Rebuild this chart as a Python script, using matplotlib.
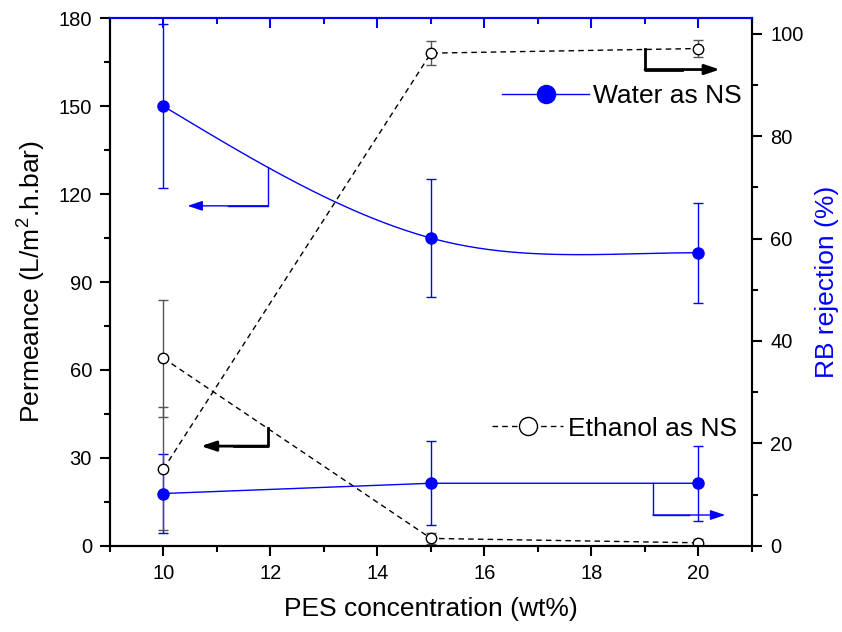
import numpy as np
import matplotlib
matplotlib.use("Agg")
import matplotlib.pyplot as plt
from matplotlib.lines import Line2D
from matplotlib.ticker import MultipleLocator

plt.rcParams['font.family'] = ['Liberation Sans', 'DejaVu Sans']
plt.rcParams['mathtext.fontset'] = 'custom'
plt.rcParams['mathtext.rm'] = 'Liberation Sans'

# PES concentration (wt%)
pes = [10, 15, 20]

# permeance, L/m2.h.bar (left axis)
water_perm = [150, 105, 100]
water_perm_err = [28, 20, 17]
eth_perm = [64, 2.5, 1.0]
eth_perm_err = [20, 1.8, 1.2]

# RB rejection, % (right axis)
water_rej = [10.2, 12.2, 12.2]
water_rej_err = [7.7, 8.2, 7.3]
eth_rej = [15.0, 96.2, 97.1]
eth_rej_err = [12, 2.3, 1.7]


def smooth_curve(xk, yk, xs, slopes):
    # cubic hermite through the knots, end slope eased to zero
    xk = np.asarray(xk, float)
    yk = np.asarray(yk, float)
    out = np.empty_like(xs)
    for j, x in enumerate(xs):
        i = min(max(np.searchsorted(xk, x) - 1, 0), len(xk) - 2)
        h = xk[i + 1] - xk[i]
        t = (x - xk[i]) / h
        out[j] = ((2 * t**3 - 3 * t**2 + 1) * yk[i]
                  + (t**3 - 2 * t**2 + t) * h * slopes[i]
                  + (-2 * t**3 + 3 * t**2) * yk[i + 1]
                  + (t**3 - t**2) * h * slopes[i + 1])
    return out


perm_slopes = [-11, -5, 0]

blue = '#0000ff'
fig = plt.figure(figsize=(8.42, 6.32), dpi=100)
ax = fig.add_axes([0.1306, 0.1365, 0.7625, 0.8345])
ax2 = ax.twinx()

# water permeance, spline connected
xs = np.linspace(pes[0], pes[-1], 200)
ax.plot(xs, smooth_curve(pes, water_perm, xs, perm_slopes), color=blue, lw=1)
ax.errorbar(pes, water_perm, yerr=water_perm_err, fmt='o', color=blue,
            ms=8, elinewidth=1, capsize=3.5, capthick=1, ecolor=blue)

# ethanol permeance
ax.plot(pes, eth_perm, color='black', lw=1, ls=(0, (4, 3)))
ax.errorbar(pes, eth_perm, yerr=eth_perm_err, fmt='o', mfc='white', mec='black',
            mew=1, ms=7.5, ecolor='#555555', elinewidth=1, capsize=3.5, capthick=1)

# water rejection
ax2.plot(pes, water_rej, color=blue, lw=1)
ax2.errorbar(pes, water_rej, yerr=water_rej_err, fmt='o', color=blue,
             ms=8, elinewidth=1, capsize=3.5, capthick=1, ecolor=blue)

# ethanol rejection
ax2.plot(pes, eth_rej, color='black', lw=1, ls=(0, (4, 3)))
ax2.errorbar(pes, eth_rej, yerr=eth_rej_err, fmt='o', mfc='white', mec='black',
             mew=1, ms=7.5, ecolor='#555555', elinewidth=1, capsize=3.5, capthick=1)


def axis_arrow(a, x0, y0, ycorner, xtip, color, lw):
    a.plot([x0, x0, xtip * 0.5 + x0 * 0.5], [y0, ycorner, ycorner], color=color, lw=lw)
    a.annotate('', xy=(xtip, ycorner), xytext=(x0, ycorner),
               arrowprops=dict(arrowstyle='-|>,head_length=0.9,head_width=0.3',
                               color=color, lw=lw, shrinkA=0, shrinkB=0))


axis_arrow(ax, 11.95, smooth_curve(pes, water_perm, np.array([11.95]), perm_slopes)[0],
           116, 10.45, blue, 1)
axis_arrow(ax, 11.95, np.interp(11.95, pes, eth_perm), 34, 10.7, 'black', 2)
axis_arrow(ax2, 19.0, np.interp(19.0, pes, eth_rej), 93, 20.4, 'black', 2)
axis_arrow(ax2, 19.15, np.interp(19.15, pes, water_rej), 6.0, 20.5, blue, 1)

ax.set_xlim(9, 21)
ax.set_ylim(0, 180)
ax2.set_ylim(0, 103)
ax.xaxis.set_major_locator(MultipleLocator(2))
ax.xaxis.set_minor_locator(MultipleLocator(1))
ax.yaxis.set_major_locator(MultipleLocator(30))
ax.yaxis.set_minor_locator(MultipleLocator(15))
ax2.yaxis.set_major_locator(MultipleLocator(20))
ax2.yaxis.set_minor_locator(MultipleLocator(10))

for a in (ax, ax2):
    for s in a.spines.values():
        s.set_linewidth(1.5)
    a.spines['top'].set_color(blue)

ax.tick_params(axis='both', which='major', direction='out', length=7, width=1.5,
               labelsize=14.5, pad=6)
ax.tick_params(axis='both', which='minor', direction='out', length=4, width=1.5)
ax2.tick_params(axis='y', which='major', direction='out', length=7, width=1.5,
                labelsize=14.5, pad=6)
ax2.tick_params(axis='y', which='minor', direction='out', length=4, width=1.5)

# blue inward ticks along the top edge
top = ax.secondary_xaxis('top')
top.spines['top'].set_visible(False)
top.xaxis.set_major_locator(MultipleLocator(2))
top.xaxis.set_minor_locator(MultipleLocator(1))
top.tick_params(which='major', direction='in', length=7, width=1.5, color=blue,
                labeltop=False)
top.tick_params(which='minor', direction='in', length=4, width=1.5, color=blue)

ax.set_xlabel('PES concentration (wt%)', fontsize=19, labelpad=10)
ax.set_ylabel('Permeance (L/m$^2$.h.bar)', fontsize=19, labelpad=8)
ax2.set_ylabel('RB rejection (%)', fontsize=19, color=blue, labelpad=8)

h_water = Line2D([], [], color=blue, lw=1, marker='o', ms=13)
h_eth = Line2D([], [], color='black', lw=1, ls=(0, (4, 3)), marker='o', ms=13,
               mfc='white', mec='black', mew=1)
leg1 = ax.legend(handles=[h_water], labels=['Water as NS'], loc='center left',
                 bbox_to_anchor=(0.611, 0.853), frameon=False, fontsize=19,
                 handlelength=3.3, handletextpad=0.15, borderpad=0, borderaxespad=0)
ax.add_artist(leg1)
ax.legend(handles=[h_eth], labels=['Ethanol as NS'], loc='center left',
          bbox_to_anchor=(0.595, 0.222), frameon=False, fontsize=19,
          handlelength=2.7, handletextpad=0.2, borderpad=0, borderaxespad=0)

fig.savefig('out.png', dpi=100)
